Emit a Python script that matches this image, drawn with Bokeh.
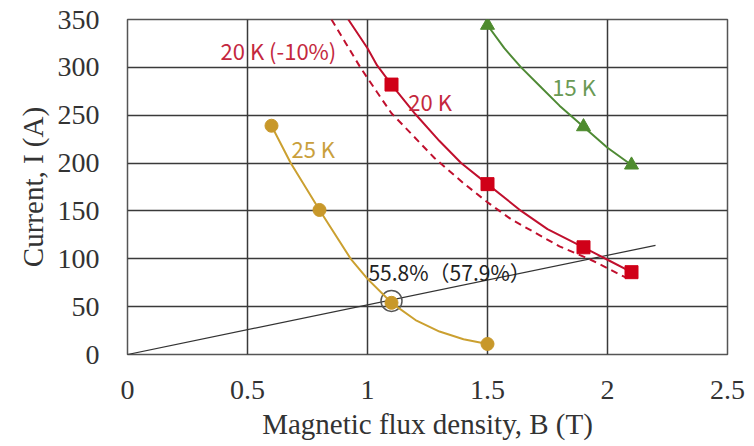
from bokeh.plotting import figure
from bokeh.models import Range1d, FixedTicker, Label
from bokeh.embed import file_html
from bokeh.resources import INLINE

# ---- data ----
b_ticks = [0, 0.5, 1, 1.5, 2, 2.5]
b_tick_labels = ["0", "0.5", "1", "1.5", "2", "2.5"]
i_ticks = [0, 50, 100, 150, 200, 250, 300, 350]

# 25 K
b_25_pts = [0.60, 0.80, 1.10, 1.50]
i_25_pts = [239, 151, 54, 11]
b_25_curve = [0.60, 0.68, 0.80, 0.93, 1.00, 1.10, 1.20, 1.30, 1.40, 1.50]
i_25_curve = [239, 200, 151, 100, 79, 54, 36, 24, 16, 11]

# 20 K
b_20_pts = [1.10, 1.50, 1.90, 2.10]
i_20_pts = [282, 178, 112, 86]
b_20_curve = [0.92, 1.00, 1.04, 1.10, 1.20, 1.30, 1.39, 1.50, 1.64, 1.75, 1.90, 2.00, 2.10]
i_20_curve = [350, 320, 302, 282, 251, 223, 200, 178, 150, 131, 112, 99, 86]

# 20 K (-10%)
b_20m_curve = [0.85, 0.91, 0.97, 1.04, 1.10, 1.20, 1.28, 1.40, 1.50, 1.60, 1.70, 1.80, 1.93, 2.08]
i_20m_curve = [350, 325, 300, 274, 252, 226, 205, 179, 159, 141, 127, 113, 99, 80]

# 15 K
b_15_pts = [1.50, 1.90, 2.10]
i_15_pts = [344, 238, 198]
b_15_curve = [1.50, 1.57, 1.64, 1.72, 1.80, 1.85, 1.90, 2.00, 2.10]
i_15_curve = [344, 320, 300, 280, 260, 249, 238, 216, 198]

# load line
b_load = [0.0, 2.2]
i_load = [0, 114]

# operating point
b_op = [1.10]
i_op = [56]

RED_LINE = "#C0102E"
RED_MARK = "#D00018"
RED_TEXT = "#C4283E"
GOLD_LINE = "#CBA030"
GOLD_MARK = "#C8982A"
GOLD_TEXT = "#C9A03C"
GREEN_LINE = "#4F8A35"
GREEN_MARK = "#4E8B2E"
GREEN_TEXT = "#6A9A55"

p = figure(width=754, height=446, output_backend="svg", toolbar_location=None,
           x_range=Range1d(0, 2.5), y_range=Range1d(0, 350),
           min_border_left=127, min_border_right=27, min_border_top=19,
           min_border_bottom=92)
p.background_fill_color = "white"
p.border_fill_color = "white"
p.outline_line_color = "#555555"
p.outline_line_width = 1.5

for ax in (p.xaxis, p.yaxis):
    ax.axis_line_color = None
    ax.major_tick_line_color = None
    ax.minor_tick_line_color = None
    ax.major_label_text_font = "Liberation Serif"
    ax.major_label_text_font_size = "28px"
    ax.major_label_text_color = "#333333"
    ax.axis_label_text_font = "Liberation Serif"
    ax.axis_label_text_font_size = "29px"
    ax.axis_label_text_font_style = "normal"
    ax.axis_label_text_color = "#333333"

p.xaxis.axis_label = "Magnetic flux density, B (T)"
p.yaxis.axis_label = "Current, I (A)"
p.xaxis.axis_label_standoff = 6
p.yaxis.axis_label_standoff = 6

p.xaxis.ticker = FixedTicker(ticks=b_ticks)
p.xaxis.major_label_overrides = {t: s for t, s in zip(b_ticks, b_tick_labels)}
p.yaxis.ticker = FixedTicker(ticks=i_ticks)
p.xaxis.major_label_standoff = 20
p.yaxis.major_label_standoff = 22

p.xgrid.ticker = FixedTicker(ticks=b_ticks[1:-1])
p.ygrid.ticker = FixedTicker(ticks=i_ticks[1:-1])
for g in (p.xgrid, p.ygrid):
    g.grid_line_color = "#3a3a3a"
    g.grid_line_width = 1.5

# load line and operating point ring
p.line(b_load, i_load, line_color="#333333", line_width=1.2)
p.scatter(b_op, i_op, marker="circle", size=21, fill_color=None,
          line_color="#555555", line_width=1.5)

# curves
p.line(b_25_curve, i_25_curve, line_color=GOLD_LINE, line_width=2)
p.scatter(b_25_pts, i_25_pts, marker="circle", size=13, fill_color=GOLD_MARK,
          line_color=GOLD_MARK)

p.line(b_20m_curve, i_20m_curve, line_color=RED_LINE, line_width=2,
       line_dash="7 5")
p.line(b_20_curve, i_20_curve, line_color=RED_LINE, line_width=2)
p.scatter(b_20_pts, i_20_pts, marker="square", size=13, fill_color=RED_MARK,
          line_color=RED_MARK)

p.line(b_15_curve, i_15_curve, line_color=GREEN_LINE, line_width=2)
p.scatter(b_15_pts, i_15_pts, marker="triangle", size=14, fill_color=GREEN_MARK,
          line_color=GREEN_MARK)

# in-plot labels
def lab(x, y, text, color, size="22px", font="Noto Sans CJK JP"):
    p.add_layout(Label(x=x, y=y, text=text, text_color=color,
                       text_font=font, text_font_size=size,
                       text_align="left", text_baseline="middle"))

lab(0.388, 318, "20 K (-10%)", RED_TEXT)
lab(1.17, 265, "20 K", RED_TEXT)
lab(1.77, 281, "15 K", GREEN_TEXT)
lab(0.683, 216, "25 K", GOLD_TEXT)
lab(1.004, 86, "55.8%（57.9%）", "#222222", size="21px")

open("out.html", "w").write(file_html(p, INLINE))
